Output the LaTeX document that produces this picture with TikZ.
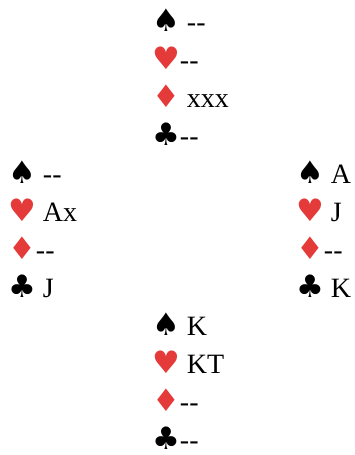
\documentclass[tikz,border=0pt]{standalone}
\usepackage{fontspec}
\setmainfont{Liberation Serif}
\newfontfamily\suitfont{DejaVu Sans}
\usepackage{xcolor}
\definecolor{suitred}{RGB}{228,58,58}
\newcommand{\spd}{{\suitfont\fontsize{31}{31}\selectfont\char"2660}}
\newcommand{\hrt}{{\suitfont\fontsize{31}{31}\selectfont\color{suitred}\char"2665}}
\newcommand{\dmd}{{\suitfont\fontsize{31}{31}\selectfont\color{suitred}\char"2666}}
\newcommand{\clb}{{\suitfont\fontsize{31}{31}\selectfont\char"2663}}
\newcommand{\void}{-{}-}
\tikzset{
  holding/.style={anchor=base west,inner sep=0pt,text depth=0pt,font=\fontsize{28}{28}\selectfont}
}

\begin{document}
\begin{tikzpicture}[x=1pt,y=-1pt]
  \useasboundingbox (0,0) rectangle (355,455);
  % north
  \node[holding] (ns) at (152,31.5) {\spd\ \void};
  \node[holding] (nh) at (152,69.5) {\hrt\void};
  \node[holding] (nd) at (152,107.5) {\dmd\ xxx};
  \node[holding] (nc) at (152,145.5) {\clb\void};
  % west
  \node[holding] (ws) at (8,183.5) {\spd\ \void};
  \node[holding] (wh) at (8,221.5) {\hrt\ Ax};
  \node[holding] (wd) at (8,259.5) {\dmd\void};
  \node[holding] (wc) at (8,297.5) {\clb\ J};
  % east
  \node[holding] (es) at (296,183.5) {\spd\ A};
  \node[holding] (eh) at (296,221.5) {\hrt\ J};
  \node[holding] (ed) at (296,259.5) {\dmd\void};
  \node[holding] (ec) at (296,297.5) {\clb\ K};
  % south
  \node[holding] (ss) at (152,335.5) {\spd\ K};
  \node[holding] (sh) at (152,373.5) {\hrt\ KT};
  \node[holding] (sd) at (152,411.5) {\dmd\void};
  \node[holding] (sc) at (152,449.5) {\clb\void};
\end{tikzpicture}
\end{document}
